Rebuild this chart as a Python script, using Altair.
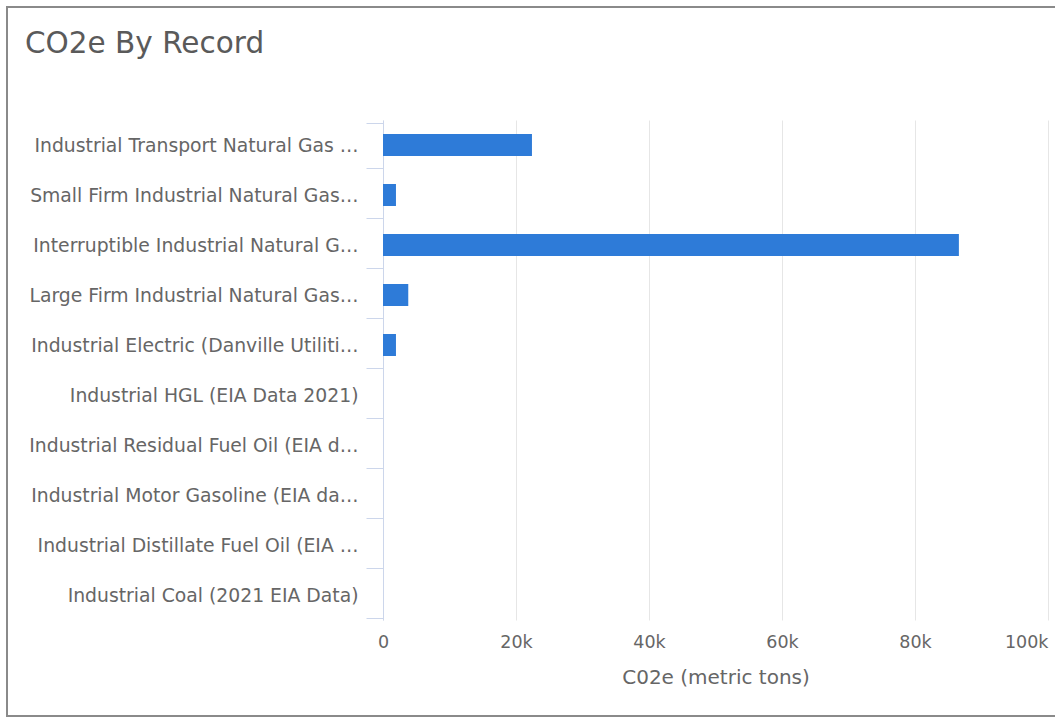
import altair as alt
import pandas as pd

# Emission records (labels as shown, truncated) and their CO2e totals
records = [
    "Industrial Transport Natural Gas …",
    "Small Firm Industrial Natural Gas…",
    "Interruptible Industrial Natural G…",
    "Large Firm Industrial Natural Gas…",
    "Industrial Electric (Danville Utiliti…",
    "Industrial HGL (EIA Data 2021)",
    "Industrial Residual Fuel Oil (EIA d…",
    "Industrial Motor Gasoline (EIA da…",
    "Industrial Distillate Fuel Oil (EIA …",
    "Industrial Coal (2021 EIA Data)",
]
co2e = [22400, 1950, 86600, 3800, 1950, 0, 0, 0, 0, 0]

x_ticks = [0, 20000, 40000, 60000, 80000, 100000]

df = pd.DataFrame({"record": records, "co2e": co2e})

FONT = "DejaVu Sans"
LABEL = "#666666"

bars = alt.Chart(df).mark_bar(size=22, color="#2e7bd8").encode(
    y=alt.Y(
        "record:N",
        sort=None,
        title=None,
        axis=alt.Axis(
            tickBand="extent",
            grid=False,
            domainColor="#ccd6eb",
            tickColor="#ccd6eb",
            tickSize=17,
            labelPadding=8,
            labelColor=LABEL,
            labelFontSize=18.8,
            labelFont=FONT,
            labelLimit=400,
        ),
    ),
    x=alt.X(
        "co2e:Q",
        title="C02e (metric tons)",
        scale=alt.Scale(domain=[0, 100000], nice=False),
        axis=alt.Axis(
            values=x_ticks,
            labelExpr="datum.value == 0 ? '0' : format(datum.value / 1000, 'd') + 'k'",
            domain=False,
            ticks=False,
            grid=True,
            gridColor="#e6e6e6",
            labelColor=LABEL,
            labelFontSize=17.5,
            labelFont=FONT,
            labelPadding=13,
            labelAlign=alt.condition("datum.value == 100000", alt.value("right"), alt.value("center")),
            titleColor=LABEL,
            titleFontSize=20,
            titleFont=FONT,
            titleFontWeight="normal",
            titlePadding=17,
        ),
    ),
)

# outer panel frame (left, top and bottom edges)
frame = alt.Chart(df).mark_rect(
    fill=None, stroke="#8a8a8a", strokeWidth=2, clip=False
).encode(
    x=alt.value(-376), x2=alt.value(700),
    y=alt.value(-113), y2=alt.value(596),
)

chart = (
    alt.layer(frame, bars)
    .properties(
        width=665,
        height=500,
        padding={"left": 383, "top": 120, "right": 7, "bottom": 97},
        autosize=alt.AutoSizeParams(type="none"),
        title=alt.TitleParams(
            "CO2e By Record",
            anchor="start",
            frame="group",
            dx=-358,
            offset=-76,
            baseline="alphabetic",
            fontSize=29.5,
            font=FONT,
            fontWeight="normal",
            color="#5a5a5a",
        ),
    )
    .configure_view(stroke=None)
)

chart.save("out.html", embed_options={"renderer": "svg", "actions": False})
